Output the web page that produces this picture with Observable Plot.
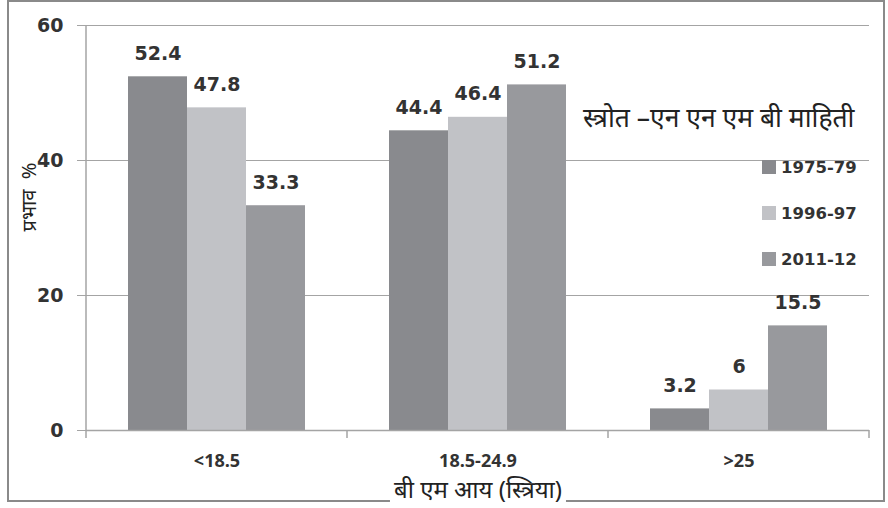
<!DOCTYPE html>
<html>
<head>
<meta charset="utf-8">
<script src="https://cdn.jsdelivr.net/npm/d3@7"></script>
<script src="https://cdn.jsdelivr.net/npm/@observablehq/plot@0.6"></script>
<style>
  body { margin: 0; background: #fff; }
  #wrap { position: relative; width: 888px; height: 508px; overflow: hidden; font-family: "Noto Sans", sans-serif; color: #222; }
  #frame { position: absolute; left: 7px; top: 0; width: 874px; height: 498px; border: 2px solid #8a8a8a; }
  #chart { position: absolute; left: 0; top: 0; }
  #source { position: absolute; left: 583px; top: 117px; transform: translateY(-50%); font-size: 26.5px; line-height: 32px; white-space: nowrap; color: #222; }
  #legend { position: absolute; left: 762px; top: 0; }
  .item { position: absolute; left: 0; white-space: nowrap; font-family: "DejaVu Sans", sans-serif; font-weight: bold; font-size: 16.5px; color: #333; line-height: 20px; }
  .swatch { display: inline-block; width: 14px; height: 14px; margin-right: 5px; vertical-align: -1px; }
  #ylabel { position: absolute; left: 28px; top: 197px; transform: translate(-50%, -50%) rotate(-90deg); font-size: 20px; white-space: pre; color: #222; }
  #xlabel { position: absolute; left: 478px; top: 489px; transform: translate(-50%, -50%); font-size: 24px; line-height: 28px; white-space: nowrap; background: #fff; padding: 0 4px; color: #222; }
</style>
</head>
<body>
<div id="wrap">
  <div id="frame"></div>
  <div id="chart"></div>
  <div id="source"></div>
  <div id="legend"></div>
  <div id="ylabel"></div>
  <div id="xlabel"></div>
</div>
<script>
// BMI categories and survey periods
const groups = ["<18.5", "18.5-24.9", ">25"];
const series = ["1975-79", "1996-97", "2011-12"];

// Prevalence (%) per BMI category, one array per survey period
const v1975 = [52.4, 44.4, 3.2];
const v1996 = [47.8, 46.4, 6];
const v2011 = [33.3, 51.2, 15.5];

const yTicks = [0, 20, 40, 60];
const colors = ["#898a8e", "#c1c2c6", "#98999d"];

const sourceText = "स्त्रोत –एन एन एम बी माहिती";
const yLabel = "प्रभाव  %";
const xLabel = "बी एम आय (स्त्रिया)";

const byPeriod = [v1975, v1996, v2011];
const rows = [];
groups.forEach((g, i) => {
  series.forEach((s, j) => rows.push({group: g, series: s, value: byPeriod[j][i]}));
});

const numFont = {fontFamily: "DejaVu Sans, sans-serif", fontWeight: "bold"};

const chart = Plot.plot({
  width: 888,
  height: 508,
  marginLeft: 86,
  marginRight: 19,
  marginTop: 25,
  marginBottom: 78,
  style: {background: "transparent", overflow: "visible"},
  fx: {domain: groups, paddingInner: 0, paddingOuter: 0, label: null},
  x: {domain: series, paddingInner: 0, paddingOuter: 0.69, axis: null},
  y: {domain: [0, 60], label: null},
  color: {domain: series, range: colors},
  marks: [
    Plot.ruleY([20, 40, 60], {stroke: "#a4a4a4", strokeWidth: 1.2}),
    Plot.barY(rows, {fx: "group", x: "series", y: "value", fill: "series"}),
    Plot.ruleY([0], {stroke: "#a4a4a4", strokeWidth: 1.5}),
    Plot.text(rows, {
      fx: "group", x: "series", y: "value", text: "value",
      dy: -23, lineAnchor: "middle", fontSize: 19, fill: "#333", ...numFont
    }),
    Plot.axisY({
      ticks: yTicks, tickSize: 9, tickPadding: 14, stroke: "#a4a4a4",
      fill: "#333", fontSize: 19, label: null, ...numFont
    }),
    Plot.axisFx({
      anchor: "bottom", tickSize: 0, tickPadding: 24, fill: "#333", fontSize: 18, label: null,
      fontFamily: "Open Sans, sans-serif", fontWeight: "bold"
    })
  ]
});

document.getElementById("chart").appendChild(chart);

// y-axis line and category boundary ticks, placed with the chart's own scales
const fx = chart.scale("fx");
const y = chart.scale("y");
const svg = d3.select(chart.tagName === "svg" ? chart : chart.querySelector("svg"));
const y0 = y.apply(0);
const edges = groups.map((g) => fx.apply(g)).concat([fx.apply(groups[groups.length - 1]) + fx.bandwidth]);
const g = svg.append("g").attr("stroke", "#a4a4a4").attr("stroke-width", 1.5);
g.append("line").attr("x1", edges[0]).attr("x2", edges[0]).attr("y1", y.apply(60)).attr("y2", y0 + 8);
edges.slice(1).forEach((e) => {
  g.append("line").attr("x1", e).attr("x2", e).attr("y1", y0).attr("y2", y0 + 8);
});

// Legend beside the bars
const legend = document.getElementById("legend");
const color = chart.scale("color");
const legendTops = [158, 204, 250];
series.forEach((s, i) => {
  const div = document.createElement("div");
  div.className = "item";
  div.style.top = legendTops[i] + "px";
  const sw = document.createElement("span");
  sw.className = "swatch";
  sw.style.background = color.apply(s);
  div.appendChild(sw);
  div.appendChild(document.createTextNode(s));
  legend.appendChild(div);
});

document.getElementById("source").textContent = sourceText;
document.getElementById("ylabel").textContent = yLabel;
document.getElementById("xlabel").textContent = xLabel;
</script>
</body>
</html>
